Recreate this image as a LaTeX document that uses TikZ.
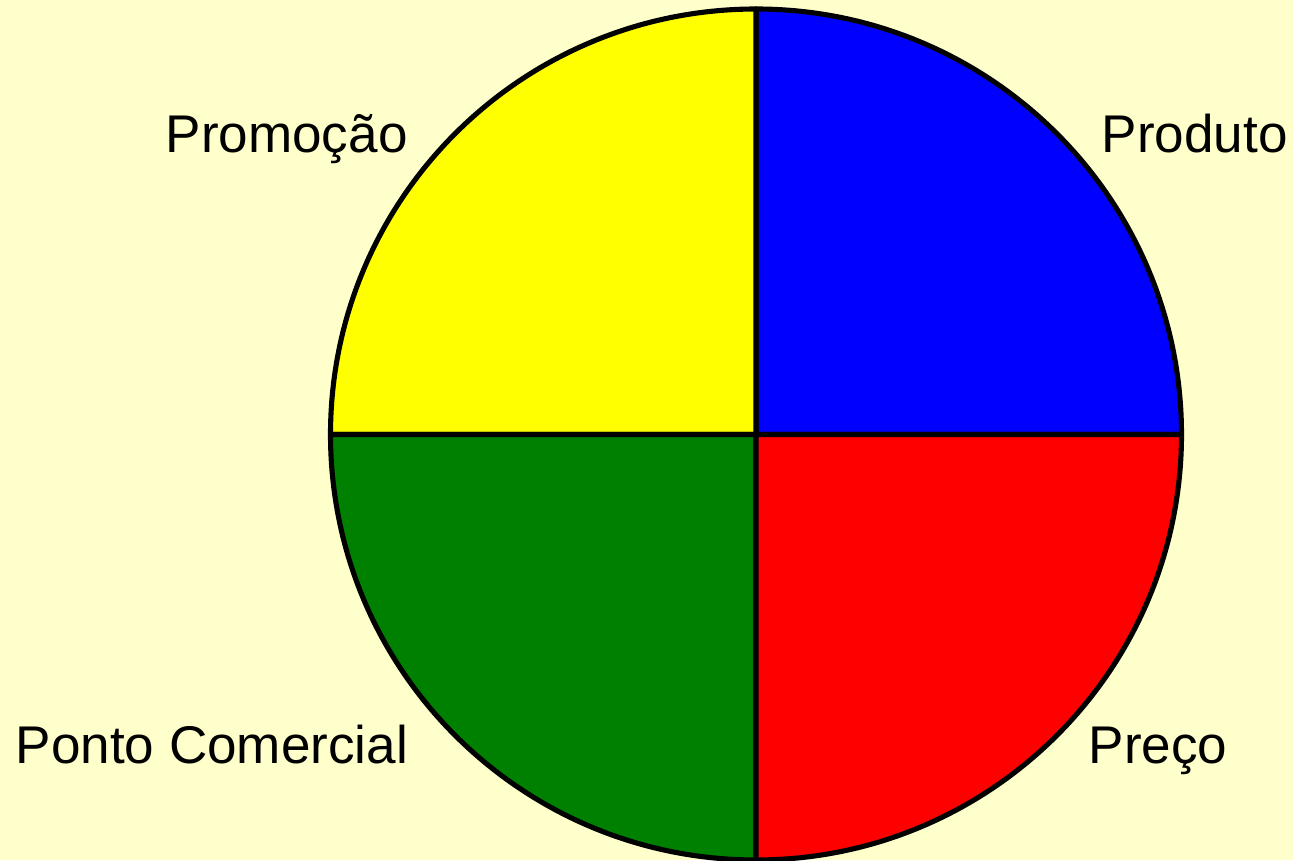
\documentclass[tikz,border=0pt]{standalone}
\usepackage{fontspec}
\setmainfont{Liberation Sans}
\usetikzlibrary{positioning}
\definecolor{bgcream}{HTML}{FFFFCC}
\definecolor{mixgreen}{HTML}{008000}
\definecolor{pureyellow}{HTML}{FFFF00}
\definecolor{pureblue}{HTML}{0000FF}
\definecolor{purered}{HTML}{FF0000}

\begin{document}
\begin{tikzpicture}[every node/.style={font=\fontsize{15.1}{18}\selectfont,inner sep=0pt,anchor=base west},
  quad/.style={draw=black,line width=1.45pt,line join=round}]
\fill[bgcream] (0,0) rectangle (12.93,8.60);
\useasboundingbox (0,0) rectangle (12.93,8.60);
\coordinate (c) at (7.56,4.255);
\def\rad{4.255}
% the four quarters
\filldraw[quad,fill=pureblue] (c) -- ++(0:\rad) arc (0:90:\rad) -- cycle;
\filldraw[quad,fill=pureyellow] (c) -- ++(90:\rad) arc (90:180:\rad) -- cycle;
\filldraw[quad,fill=mixgreen] (c) -- ++(180:\rad) arc (180:270:\rad) -- cycle;
\filldraw[quad,fill=purered] (c) -- ++(270:\rad) arc (270:360:\rad) -- cycle;
% labels
\node (promo) at (1.65,7.07) {Promoção};
\node (prod) at (11.01,7.07) {Produto};
\node (ponto) at (0.15,0.97) {Ponto Comercial};
\node (preco) at (10.88,0.97) {Preço};
\end{tikzpicture}
\end{document}
